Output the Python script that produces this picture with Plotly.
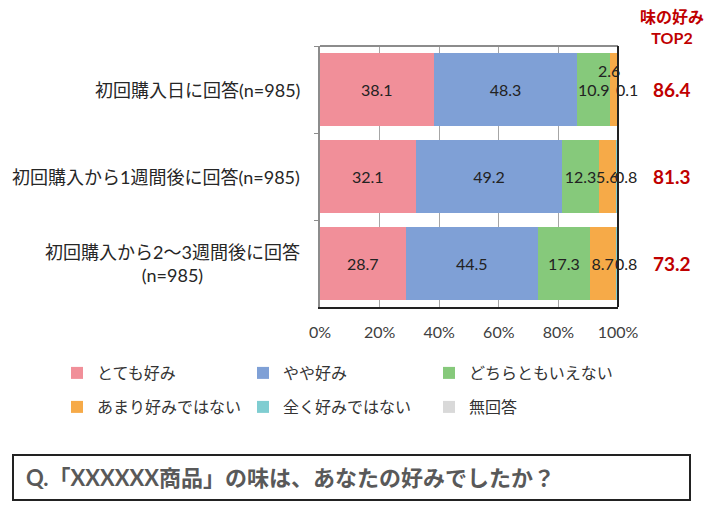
import plotly.graph_objects as go

# rows (top to bottom)
categories = ['初回購入日に回答(n=985)',
              '初回購入から1週間後に回答(n=985)',
              '初回購入から2～3週間後に回答<br>(n=985)']
very_like = [38.1, 32.1, 28.7]
somewhat_like = [48.3, 49.2, 44.5]
neutral = [10.9, 12.3, 17.3]
not_much = [2.6, 5.6, 8.7]
not_at_all = [0.1, 0.8, 0.8]
no_answer = [0.0, 0.0, 0.0]
top2 = [86.4, 81.3, 73.2]

series_names = ['とても好み', 'やや好み', 'どちらともいえない',
                'あまり好みではない', '全く好みではない', '無回答']
series_values = [very_like, somewhat_like, neutral, not_much, not_at_all, no_answer]
colors = ['#F18F99', '#7FA0D6', '#86C97B', '#F6AA48', '#7FCDD1', '#D9D9D9']
x_ticks = [0, 20, 40, 60, 80, 100]

FONT = 'Lato, "Noto Sans CJK JP", sans-serif'
# the page adds an 8px body margin, so the figure is shifted by that much
OFF = 8
W, H = 716 - OFF, 505 - OFF
# plot area in figure pixels
L, R, T, B = 320 - OFF, 618 - OFF, 46 - OFF, 307 - OFF


def px_x(p):
    return (p - OFF - L) / (R - L)


def px_y(p):
    return (B - (p - OFF)) / (B - T)


fig = go.Figure()
for i, (name, vals, col) in enumerate(zip(series_names, series_values, colors)):
    if i < 3:
        text = [f'{v:.1f}' for v in vals]
    elif i == 3:
        text = [''] + [f'{v:.1f}' for v in vals[1:]]
    else:
        text = ['' for v in vals]
    fig.add_trace(go.Bar(
        y=categories, x=vals, name=name, orientation='h',
        marker=dict(color=col, line=dict(width=0)),
        text=text, textposition='inside', insidetextanchor='middle',
        textangle=0, constraintext='none',
        insidetextfont=dict(family=FONT, size=16, color='#222222'),
        legend='legend' if i < 3 else 'legend2',
        hoverinfo='skip'))

annotations = []
# small value labels placed beside their segments
cum_orange = [a + b + c for a, b, c in zip(very_like, somewhat_like, neutral)]
annotations.append(dict(x=cum_orange[0] + not_much[0] / 2, y=categories[0],
                        text=f'{not_much[0]:.1f}', showarrow=False,
                        xanchor='center', xshift=-5, yshift=19,
                        font=dict(family=FONT, size=16, color='#222222')))
for k, cat in enumerate(categories):
    start = cum_orange[k] + not_much[k]
    annotations.append(dict(x=start + not_at_all[k] / 2, y=cat,
                            text=f'{not_at_all[k]:.1f}', showarrow=False,
                            xanchor='center', xshift=9,
                            font=dict(family=FONT, size=16, color='#222222')))
    # row labels
    annotations.append(dict(x=0, xref='paper', y=cat, text=cat,
                            xanchor='right', xshift=-18, align='center',
                            showarrow=False,
                            font=dict(family=FONT, size=18, color='#262626')))
    # TOP2 values
    annotations.append(dict(x=px_x(672), xref='paper', y=cat,
                            text=f'{top2[k]:.1f}', showarrow=False,
                            xanchor='center',
                            font=dict(family=FONT, size=19, color='#C00000',
                                      weight='bold')))

annotations.append(dict(x=px_x(672), y=px_y(27), xref='paper', yref='paper',
                        xanchor='center', yanchor='middle',
                        text='味の好み<br>TOP2', showarrow=False,
                        font=dict(family=FONT, size=16, color='#C00000',
                                  weight='bold')))
annotations.append(dict(x=px_x(24), y=px_y(477), xref='paper', yref='paper',
                        xanchor='left', yanchor='middle',
                        text='Q.「XXXXXX商品」の味は、あなたの好みでしたか？',
                        showarrow=False,
                        font=dict(family=FONT, size=22, color='#595959',
                                  weight='bold')))

shapes = [
    dict(type='line', xref='paper', yref='paper', x0=0, x1=1, y0=1, y1=1,
         line=dict(color='#8C8C8C', width=2)),
    dict(type='line', xref='paper', yref='paper', x0=1, x1=1, y0=0, y1=1,
         line=dict(color='#222222', width=2)),
    dict(type='rect', xref='paper', yref='paper',
         x0=px_x(13), x1=px_x(690), y0=px_y(455), y1=px_y(500),
         line=dict(color='#222222', width=2)),
]

legend_common = dict(orientation='h', xref='paper', yref='paper',
                     x=px_x(57), xanchor='left', yanchor='middle',
                     entrywidth=141, entrywidthmode='pixels',
                     font=dict(family=FONT, size=16, color='#333333'),
                     bgcolor='rgba(0,0,0,0)', traceorder='normal')

fig.update_layout(
    width=W, height=H,
    margin=dict(l=L, r=W - R, t=T, b=H - B, autoexpand=False),
    barmode='stack', bargap=0.17,
    plot_bgcolor='white', paper_bgcolor='white',
    font=dict(family=FONT, color='#404040'),
    showlegend=True,
    legend=dict(legend_common, y=px_y(373)),
    legend2=dict(legend_common, y=px_y(407)),
    xaxis=dict(range=[0, 100], tickvals=x_ticks,
               ticktext=[f'{t}%' for t in x_ticks],
               showgrid=True, gridcolor='#A6A6A6', gridwidth=1,
               zeroline=False, showline=True, linecolor='#222222', linewidth=2,
               ticks='', ticklabelstandoff=10,
               tickfont=dict(family=FONT, size=16, color='#404040'),
               fixedrange=True),
    yaxis=dict(type='category', categoryorder='array', categoryarray=categories,
               autorange='reversed', showticklabels=False,
               showline=True, linecolor='#8C8C8C', linewidth=2,
               ticks='outside', tickson='boundaries', ticklen=4,
               tickcolor='#8C8C8C', showgrid=False, zeroline=False,
               fixedrange=True),
    annotations=annotations,
    shapes=shapes,
)

fig.write_html('out.html')
